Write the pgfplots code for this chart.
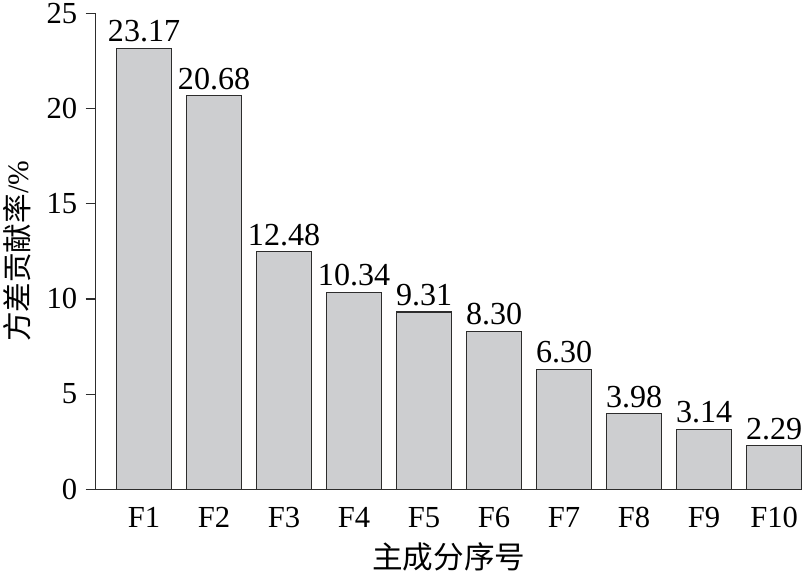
\documentclass[border=0pt]{standalone}
\usepackage{fontspec}
\setmainfont{Liberation Serif}
\newfontfamily\cjk{Noto Sans CJK SC}
\usepackage{pgfplots}
\pgfplotsset{compat=1.18}
\definecolor{barfill}{RGB}{205,206,208}
\definecolor{barline}{RGB}{45,45,45}
\begin{document}
\begin{tikzpicture}
\begin{axis}[
  scale only axis,
  width=713bp, height=480bp,
  xmin=-0.694, xmax=9.40,
  ymin=0, ymax=25,
  axis lines*=left,
  axis line style={-, draw=barline, line width=1.2bp},
  ytick={0,5,10,15,20,25},
  xtick=data,
  xticklabels={F1,F2,F3,F4,F5,F6,F7,F8,F9,F10},
  tick align=outside,
  major tick length=10bp,
  ytick style={draw=barline, line width=1.2bp},
  xtick style={draw=none},
  /pgf/number format/assume math mode=true,
  tick label style={font=\fontsize{31}{36}\selectfont},
  yticklabel style={xshift=-5bp},
  xticklabel style={yshift=-5bp},
  xlabel={\cjk 主成分序号},
  ylabel={\cjk 方差贡献率\rmfamily/\%},
  xlabel style={font=\fontsize{31}{36}\selectfont, yshift=-8bp},
  ylabel style={font=\fontsize{30}{34}\selectfont, yshift=9bp},
  nodes near coords,
  nodes near coords style={font=\fontsize{32.5}{38}\selectfont, inner sep=2bp, yshift=3.5bp, /pgf/number format/.cd, fixed, fixed zerofill, precision=2, assume math mode=true},
  clip=false,
  after end axis/.code={\path (rel axis cs:1,0) ++(8bp,0);},
]
\addplot[ybar, bar width=56bp, fill=barfill, draw=barline, line width=1.2bp]
  coordinates {(0,23.17) (1,20.68) (2,12.48) (3,10.34) (4,9.31) (5,8.30) (6,6.30) (7,3.98) (8,3.14) (9,2.29)};
\end{axis}
\end{tikzpicture}
\end{document}
